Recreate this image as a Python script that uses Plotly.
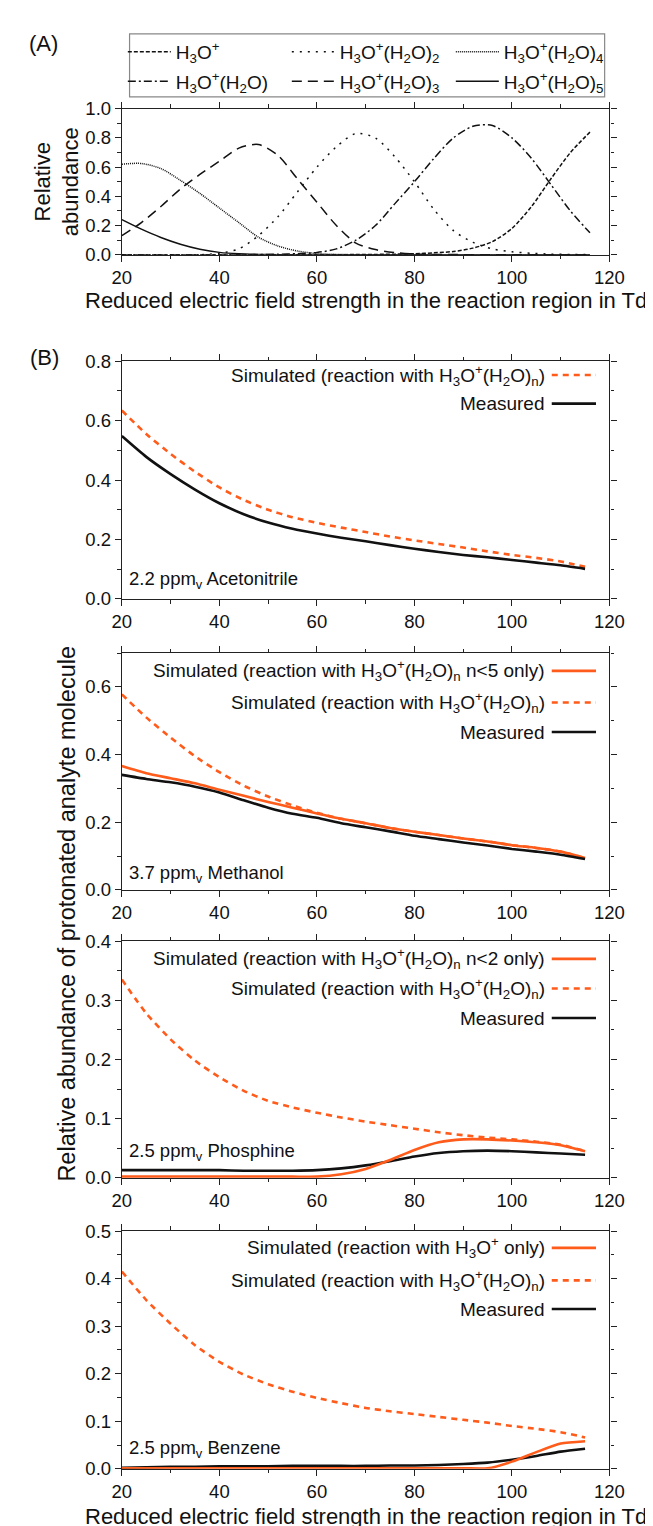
import plotly.graph_objects as go

W, H = 653, 1526
FONT = "Liberation Sans, Arial, sans-serif"
ORANGE = "#FF5B1A"
INK = "#111111"

# ---------------- Panel A data ----------------
xa = [20, 24, 28, 32, 36, 40, 44, 48, 52, 56, 60, 64, 68, 72, 76, 80, 84, 88, 92, 96, 100, 104, 108, 112, 116]
a_n0 = [0, 0, 0, 0, 0, 0, 0, 0, 0, 0, 0, 0, 0.001, 0.002, 0.004, 0.007, 0.013, 0.022, 0.045, 0.09, 0.18, 0.33, 0.52, 0.70, 0.84]
a_n1 = [0, 0, 0, 0, 0, 0, 0, 0.001, 0.003, 0.007, 0.015, 0.04, 0.10, 0.20, 0.35, 0.50, 0.66, 0.80, 0.88, 0.885, 0.80, 0.66, 0.48, 0.30, 0.15]
a_n2 = [0, 0, 0, 0, 0, 0.01, 0.04, 0.13, 0.26, 0.43, 0.60, 0.74, 0.83, 0.80, 0.67, 0.50, 0.31, 0.165, 0.085, 0.04, 0.02, 0.01, 0.004, 0.002, 0.001]
a_n3 = [0.13, 0.22, 0.33, 0.45, 0.55, 0.64, 0.73, 0.755, 0.68, 0.52, 0.36, 0.20, 0.08, 0.035, 0.015, 0.005, 0.002, 0.001, 0, 0, 0, 0, 0, 0, 0]
a_n4 = [0.62, 0.625, 0.59, 0.51, 0.42, 0.32, 0.22, 0.12, 0.06, 0.025, 0.008, 0.002, 0, 0, 0, 0, 0, 0, 0, 0, 0, 0, 0, 0, 0]
a_n5 = [0.24, 0.175, 0.118, 0.072, 0.038, 0.016, 0.006, 0.002, 0, 0, 0, 0, 0, 0, 0, 0, 0, 0, 0, 0, 0, 0, 0, 0, 0]

# ---------------- Panel B data ----------------
xb = [20, 25, 30, 35, 40, 45, 50, 55, 60, 65, 70, 75, 80, 85, 90, 95, 100, 105, 110, 115]

acn_sim = [0.634, 0.555, 0.488, 0.428, 0.375, 0.333, 0.30, 0.275, 0.256, 0.24, 0.225, 0.21, 0.197, 0.185, 0.173, 0.16, 0.148, 0.138, 0.126, 0.108]
acn_meas = [0.548, 0.478, 0.42, 0.368, 0.322, 0.285, 0.257, 0.236, 0.22, 0.206, 0.194, 0.181, 0.169, 0.158, 0.148, 0.14, 0.131, 0.122, 0.113, 0.101]

meo_sim_n5 = [0.366, 0.345, 0.33, 0.315, 0.296, 0.278, 0.26, 0.243, 0.226, 0.21, 0.197, 0.183, 0.172, 0.162, 0.152, 0.143, 0.132, 0.124, 0.113, 0.094]
meo_sim = [0.578, 0.51, 0.45, 0.395, 0.348, 0.308, 0.276, 0.25, 0.228, 0.21, 0.197, 0.183, 0.172, 0.162, 0.152, 0.143, 0.132, 0.124, 0.113, 0.094]
meo_meas = [0.34, 0.328, 0.318, 0.305, 0.288, 0.265, 0.243, 0.225, 0.213, 0.197, 0.185, 0.173, 0.16, 0.15, 0.14, 0.131, 0.121, 0.113, 0.104, 0.091]

ph_sim_n2 = [0.002, 0.002, 0.002, 0.002, 0.002, 0.002, 0.002, 0.002, 0.002, 0.006, 0.015, 0.03, 0.047, 0.06, 0.065, 0.065, 0.063, 0.06, 0.055, 0.045]
ph_sim = [0.335, 0.278, 0.234, 0.198, 0.17, 0.147, 0.13, 0.119, 0.11, 0.102, 0.095, 0.089, 0.083, 0.077, 0.072, 0.068, 0.065, 0.061, 0.056, 0.045]
ph_meas = [0.013, 0.013, 0.013, 0.013, 0.013, 0.012, 0.012, 0.012, 0.013, 0.016, 0.021, 0.028, 0.036, 0.042, 0.045, 0.046, 0.045, 0.043, 0.041, 0.039]

bz_sim_h3o = [0.001, 0.001, 0.001, 0.001, 0.001, 0.001, 0.001, 0.001, 0.001, 0.001, 0.001, 0.001, 0.001, 0.001, 0.001, 0.001, 0.015, 0.035, 0.053, 0.058]
bz_sim = [0.415, 0.355, 0.305, 0.26, 0.225, 0.198, 0.178, 0.162, 0.149, 0.138, 0.128, 0.121, 0.115, 0.109, 0.103, 0.097, 0.09, 0.084, 0.077, 0.066]
bz_meas = [0.002, 0.003, 0.004, 0.004, 0.005, 0.005, 0.005, 0.006, 0.006, 0.006, 0.006, 0.007, 0.007, 0.008, 0.01, 0.013, 0.019, 0.027, 0.036, 0.042]

x_ticks = [20, 40, 60, 80, 100, 120]
sample_labels = ["2.2 ppm<sub>v</sub> Acetonitrile", "3.7 ppm<sub>v</sub> Methanol",
                 "2.5 ppm<sub>v</sub> Phosphine", "2.5 ppm<sub>v</sub> Benzene"]

ION = "H<sub>3</sub>O<sup>+</sup>"
CL = "H<sub>3</sub>O<sup>+</sup>(H<sub>2</sub>O)<sub>n</sub>"


def px(x):
    return x / W


def py(y):
    return 1 - y / H


fig = go.Figure()

# Panel A traces: legend row 1 = n0, n2, n4 ; row 2 = n1, n3, n5
a_series = [
    (a_n0, ION, "4px,2px", "legend"),
    (a_n2, "H<sub>3</sub>O<sup>+</sup>(H<sub>2</sub>O)<sub>2</sub>", "2px,6px", "legend"),
    (a_n4, "H<sub>3</sub>O<sup>+</sup>(H<sub>2</sub>O)<sub>4</sub>", "1px,1px", "legend"),
    (a_n1, "H<sub>3</sub>O<sup>+</sup>(H<sub>2</sub>O)", "8px,3px,2px,3px", "legend2"),
    (a_n3, "H<sub>3</sub>O<sup>+</sup>(H<sub>2</sub>O)<sub>3</sub>", "10px,6px", "legend2"),
    (a_n5, "H<sub>3</sub>O<sup>+</sup>(H<sub>2</sub>O)<sub>5</sub>", "solid", "legend2"),
]
for ys, name, dash, lg in a_series:
    fig.add_trace(go.Scatter(x=xa, y=ys, mode="lines", name=name, legend=lg,
                             line=dict(color=INK, width=1.5, dash=dash, shape="spline", smoothing=0.8),
                             xaxis="x", yaxis="y"))

# Panel B traces
panels = [
    ("x2", "y2", [(acn_sim, ORANGE, "6px,5px"), (acn_meas, INK, "solid")]),
    ("x3", "y3", [(meo_sim, ORANGE, "6px,5px"), (meo_sim_n5, ORANGE, "solid"), (meo_meas, INK, "solid")]),
    ("x4", "y4", [(ph_sim, ORANGE, "6px,5px"), (ph_meas, INK, "solid"), (ph_sim_n2, ORANGE, "solid")]),
    ("x5", "y5", [(bz_sim, ORANGE, "6px,5px"), (bz_meas, INK, "solid"), (bz_sim_h3o, ORANGE, "solid")]),
]
for xr, yr, series in panels:
    for ys, col, dash in series:
        fig.add_trace(go.Scatter(x=xb, y=ys, mode="lines", showlegend=False,
                                 line=dict(color=col, width=2.6, dash=dash, shape="spline", smoothing=0.6),
                                 xaxis=xr, yaxis=yr))

axis_common = dict(showline=True, linecolor="#222", linewidth=1.2, mirror="ticks",
                   ticks="outside", ticklen=6, tickwidth=1.2, tickcolor="#222",
                   showgrid=False, zeroline=False,
                   tickfont=dict(family=FONT, size=18.5, color=INK))

# domains in pixels: (top, bottom)
doms = [(91, 239), (347, 588), (643, 883), (935, 1175), (1229, 1470)]
yranges = [(0, 1.0, 0.2, 0.1), (0, 0.8, 0.2, 0.1), (0, 0.7, 0.2, 0.1), (0, 0.4, 0.1, 0.05), (0, 0.5, 0.1, 0.05)]

layout = dict(width=W, height=H, margin=dict(l=0, r=0, t=0, b=0),
              paper_bgcolor="white", plot_bgcolor="white",
              font=dict(family=FONT, size=18, color=INK))
for i, ((top, bot), (y0, y1, dt, mdt)) in enumerate(zip(doms, yranges)):
    sfx = "" if i == 0 else str(i + 1)
    layout["xaxis" + sfx] = dict(axis_common, domain=[px(108), px(615)], range=[20, 120],
                                 tickvals=x_ticks, anchor="y" + sfx,
                                 minor=dict(dtick=10, tick0=20, ticks="outside", ticklen=3.5,
                                            tickwidth=1, tickcolor="#222"))
    layout["yaxis" + sfx] = dict(axis_common, domain=[py(bot), py(top)], range=[y0, y1],
                                 dtick=dt, tick0=0, tickformat=".1f", anchor="x" + sfx,
                                 minor=dict(dtick=mdt, tick0=0, ticks="outside", ticklen=3.5,
                                            tickwidth=1, tickcolor="#222"))

legend_common = dict(orientation="h", x=px(109), xanchor="left", yanchor="top",
                     entrywidth=106, entrywidthmode="pixels", itemwidth=43,
                     bgcolor="rgba(0,0,0,0)", borderwidth=0,
                     font=dict(family=FONT, size=19, color=INK), traceorder="normal")
layout["legend"] = dict(legend_common, y=py(14))
layout["legend2"] = dict(legend_common, y=py(44))
fig.update_layout(**layout)

shapes = [dict(type="rect", xref="paper", yref="paper", x0=px(116), x1=px(610), y0=py(79), y1=py(15),
               line=dict(color="#888", width=1.2), fillcolor="rgba(0,0,0,0)", layer="below")]
annotations = []


def ann(text, x, y, size, xanchor="center", yanchor="middle", angle=0):
    annotations.append(dict(text=text, x=px(x), y=py(y), xref="paper", yref="paper",
                            xanchor=xanchor, yanchor=yanchor, showarrow=False, textangle=angle,
                            font=dict(family=FONT, size=size, color=INK)))


ann("(A)", 26, 25, 22)
ann("(B)", 28, 343, 22)
ann("Relative<br>abundance", 40, 165, 22, angle=-90)
ann("Reduced electric field strength in the reaction region in Td", 361.5, 285, 22)
ann("Reduced electric field strength in the reaction region in Td", 361.5, 1518, 22)
ann("Relative abundance of protonated analyte molecule", 50, 907, 23.5, angle=-90)

for lbl, yy in zip(sample_labels, [569, 867, 1149, 1450]):
    ann(lbl, 113, yy, 18.5, xanchor="left")

# custom legends (sample to the right of right-aligned text)
b_legends = [
    [("Simulated (reaction with " + CL + ")", ORANGE, "6px,5px", 361), ("Measured", INK, "solid", 390)],
    [("Simulated (reaction with " + CL + " n&lt;5 only)", ORANGE, "solid", 661),
     ("Simulated (reaction with " + CL + ")", ORANGE, "6px,5px", 693), ("Measured", INK, "solid", 723)],
    [("Simulated (reaction with " + CL + " n&lt;2 only)", ORANGE, "solid", 953),
     ("Simulated (reaction with " + CL + ")", ORANGE, "6px,5px", 983), ("Measured", INK, "solid", 1013)],
    [("Simulated (reaction with " + ION + " only)", ORANGE, "solid", 1246),
     ("Simulated (reaction with " + CL + ")", ORANGE, "6px,5px", 1279), ("Measured", INK, "solid", 1308)],
]
for entries in b_legends:
    for text, col, dash, yy in entries:
        ann(text, 550, yy, 19, xanchor="right")
        shapes.append(dict(type="line", xref="paper", yref="paper", x0=px(555), x1=px(601),
                           y0=py(yy), y1=py(yy), line=dict(color=col, width=2.6, dash=dash)))

fig.update_layout(shapes=shapes, annotations=annotations)
fig.write_html("out.html")
